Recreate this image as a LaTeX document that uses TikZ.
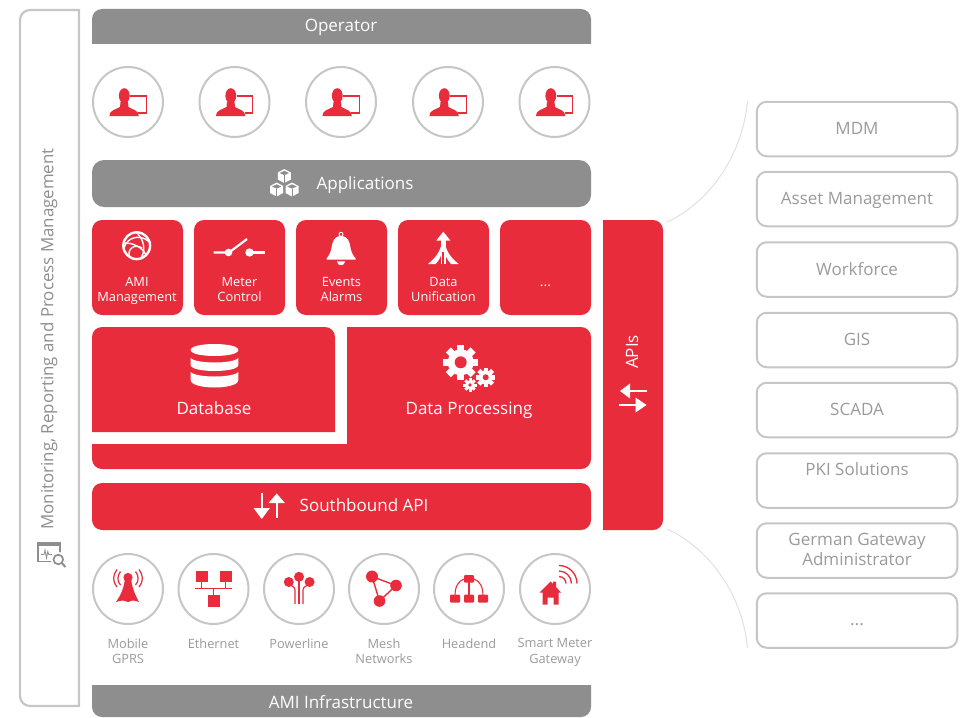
\documentclass[tikz,border=0pt]{standalone}
\usepackage{fontspec}
\setmainfont{Open Sans}
\definecolor{amired}{HTML}{E92C3C}
\definecolor{amigray}{HTML}{8E8E8E}
\definecolor{amiline}{HTML}{C6C6C6}
\definecolor{amitext}{HTML}{9A9A9A}
\newcommand{\fsize}[2]{\fontsize{#1}{#2}\selectfont}
\tikzset{
    bigtext/.style={text=white,font=\fsize{17}{20},inner sep=0,text height=12pt,text depth=3.5pt},
    cardtext/.style={text=white,font=\fsize{12.8}{15.5},align=center,anchor=north,inner sep=0},
    smalltext/.style={text=amitext,font=\fsize{12.8}{15.5},align=center,anchor=north,inner sep=0},
    card/.style={fill=amired,rounded corners=10pt,minimum width=91pt,minimum height=95pt,inner sep=0},
    ring/.style={circle,draw=amiline,line width=2pt,fill=white,minimum size=70pt,inner sep=0},
    sidebox/.style={draw=amiline,line width=2pt,rounded corners=10pt,minimum width=200.5pt,minimum height=54.5pt,inner sep=0},
    sidetext/.style={text=amitext,font=\fsize{17}{20.5},align=center,inner sep=0,text height=12pt,text depth=3.5pt},
    pics/usericon/.style={code={
        \fill[amired] (-3.7,-6.2) ellipse [x radius=5.4,y radius=7.6];
        \fill[amired] (-18.6,14) .. controls (-18.6,8) and (-12,7.5) .. (-8,5) -- (-7.5,0) -- (0,0) -- (0.5,5) .. controls (4,7.5) and (10.8,8) .. (10.8,14) -- cycle;
        \draw[amired,line width=1.1pt] (2,-6) -- (18.3,-6) -- (18.3,10.3) -- (11,10.3);
        \fill[amired] (10,9.6) rectangle (18.9,11.6);
    }},
    pics/cubeicon/.style={code={
        \fill[white] (0,-7) -- (6.5,-3.5) -- (6.5,3.5) -- (0,7) -- (-6.5,3.5) -- (-6.5,-3.5) -- cycle;
        \fill[amigray] (0,-5.2) -- (4.6,-3) -- (0,-0.8) -- (-4.6,-3) -- cycle;
        \draw[amigray,line width=0.6pt] (0,-0.8) -- (0,7);
    }},
    pics/geartool/.style n args={4}{code={
        \fill[white] (0,0) circle [radius=#2];
        \foreach \i in {1,...,8}
            \fill[white,rotate=\i*45] (-#4,-#1) rectangle (#4,0);
        \fill[amired] (0,0) circle [radius=#3];
    }},
}
\begin{document}
\begin{tikzpicture}[x=1pt,y=-1pt]
    \useasboundingbox (0,0) rectangle (963,717);

    % Frame on the left
    \draw[amiline,line width=2.2pt] (79,706) [rounded corners=10pt] -- (20,706) -- (20,10) [sharp corners] -- (79,10) -- cycle;
    \node[rotate=90,text=amigray,font=\fsize{16.9}{20},inner sep=0] (monitoring) at (49,339) {Monitoring, Reporting and Process Management};
    \draw[amigray,line width=1.3pt] (37.9,543) rectangle (60,561.5);
    \fill[amigray] (37.3,541.5) rectangle (60.6,546);
    \fill[white] (58.5,559.5) circle [radius=7.5];
    \draw[amigray,line width=1.7pt] (58.3,559.5) circle [radius=4.8];
    \draw[amigray,line width=2pt] (61.8,563) -- (65.5,567);
    \draw[amigray,line width=0.8pt] (41,554.5) -- (44,554.5) -- (45,550) -- (46.5,558) -- (47.8,551.5) -- (48.8,554.5) -- (52,554.5);

    % Operator
    \fill[amigray] (92,44) [rounded corners=10pt] -- (92,9) -- (591,9) [sharp corners] -- (591,44) -- cycle;
    \node[bigtext] (operator) at (341,27.5) {Operator};
    \foreach \x [count=\i] in {128,234.5,341,448,554.5} {
        \node[ring] (user\i) at (\x,102) {};
        \pic at (user\i) {usericon};
    }

    % Applications
    \node[fill=amigray,rounded corners=12pt,minimum width=499pt,minimum height=47pt,inner sep=0] (appbar) at (341.5,183.5) {};
    \node[bigtext] (applications) at (365,185) {Applications};
    \pic at (284.3,176) {cubeicon};
    \pic at (276.7,189.5) {cubeicon};
    \pic at (292,189.5) {cubeicon};

    % The five cards
    \node[card] (ami) at (137.5,267.5) {};
    \node[card] (meter) at (239.5,267.5) {};
    \node[card] (events) at (341.5,267.5) {};
    \node[card] (unify) at (443.5,267.5) {};
    \node[card] (more) at (545.5,267.5) {};
    \node[cardtext] (amilabel) at (137,276.8) {AMI\\Management};
    \node[cardtext] (meterlabel) at (239.5,276.8) {Meter\\Control};
    \node[cardtext] (eventslabel) at (341.5,276.8) {Events\\Alarms};
    \node[cardtext] (unifylabel) at (443.5,276.8) {Data\\Unification};
    \node[text=white,font=\fsize{14}{16},anchor=base,inner sep=0] (morelabel) at (545.5,286) {...};

    % Globe
    \draw[white,line width=2.4pt] (136.7,245.7) circle [radius=13.4];
    \draw[white,line width=1.4pt] (124,248) .. controls (127,237) and (140,234) .. (148,241);
    \draw[white,line width=1.4pt] (125,243) .. controls (136,243) and (145,250) .. (146,256);
    \draw[white,line width=1.4pt] (130,258) .. controls (126,250) and (134,243) .. (142,248);
    \draw[white,line width=1.4pt] (137,233) .. controls (144,240) and (146,250) .. (141,258);

    % Switch
    \draw[white,line width=2.2pt] (213.5,252.5) -- (229,252.5) -- (247,239);
    \draw[white,line width=2.2pt] (250,252.5) -- (265,252.5);
    \fill[white] (228.5,252.5) circle [radius=3.8];
    \fill[white] (249.5,252.5) circle [radius=4.2];

    % Bell
    \draw[white,line width=0.9pt] (341,234.3) circle [radius=2];
    \fill[white] (326.5,258.5) .. controls (332,252) and (331,248) .. (332.5,243) .. controls (334,237.5) and (338,236) .. (341,236) .. controls (344,236) and (348,237.5) .. (349.5,243) .. controls (351,248) and (350,252) .. (355.7,258.5) -- (355.7,259.6) -- (326.5,259.6) -- cycle;
    \fill[white] (336.8,261.4) .. controls (337.5,266.5) and (344.5,266.5) .. (345.2,261.4) -- cycle;

    % Arrow with merging legs
    \fill[white] (443.3,231.7) -- (450.3,240.5) -- (436.3,240.5) -- cycle;
    \fill[white] (440.6,240) rectangle (446,252);
    \fill[white] (440.6,250) -- (442.4,250) -- (442.4,264) -- (440.6,264) -- cycle;
    \fill[white] (444.2,250) -- (446,250) -- (446,264) -- (444.2,264) -- cycle;
    \fill[white] (441,246) .. controls (439,254) and (433,260) .. (428,264) -- (435.5,264) .. controls (438.5,261) and (441,257) .. (441.5,253) -- cycle;
    \fill[white] (445.6,246) .. controls (447.6,254) and (453.6,260) .. (458.6,264) -- (451.1,264) .. controls (448.1,261) and (445.6,257) .. (445.1,253) -- cycle;

    % Database and data processing
    \fill[amired] (92,432) [rounded corners=10pt] -- (92,327) -- (335,327) [sharp corners] -- (335,432) -- cycle;
    \fill[amired] (347,444) -- (347,327) [rounded corners=10pt] -- (591,327) -- (591,469) -- (92,469) [sharp corners] -- (92,444) -- cycle;
    \node[bigtext] (database) at (214,410) {Database};
    \node[bigtext] (processing) at (469,410) {Data Processing};
    \fill[white] (190.7,350) .. controls (190.7,342) and (238.3,342) .. (238.3,350) .. controls (238.3,358) and (190.7,358) .. (190.7,350) -- cycle;
    \fill[white] (190.7,358) .. controls (196,364) and (233,364) .. (238.3,358) -- (238.3,365) .. controls (238.3,373) and (190.7,373) .. (190.7,365) -- cycle;
    \fill[white] (190.7,372) .. controls (196,378) and (233,378) .. (238.3,372) -- (238.3,380) .. controls (238.3,390) and (190.7,390) .. (190.7,380) -- cycle;
    \pic at (460.7,362.3) {geartool={17.5}{13}{6}{3.6}};
    \pic at (485.7,377.3) {geartool={9.7}{7}{3}{2.2}};
    \pic at (470,385) {geartool={6.6}{4.8}{1.9}{1.5}};

    % Southbound API
    \node[fill=amired,rounded corners=10pt,minimum width=499pt,minimum height=47pt,inner sep=0] (southbound) at (341.5,506.5) {};
    \node[bigtext] (southlabel) at (364,507.5) {Southbound API};
    \draw[white,line width=1.7pt] (261.7,493) -- (261.7,509);
    \fill[white] (253.5,508) -- (269.9,508) -- (261.7,519) -- cycle;
    \draw[white,line width=1.7pt] (276.7,502) -- (276.7,518);
    \fill[white] (268.5,503) -- (284.9,503) -- (276.7,493.5) -- cycle;

    % APIs
    \fill[amired] (603,530) -- (603,220) [rounded corners=10pt] -- (663,220) -- (663,530) [sharp corners] -- (603,530) -- cycle;
    \node[rotate=90,text=white,font=\fsize{17}{20},inner sep=0] (apis) at (632,352) {APIs};
    \draw[white,line width=1.7pt] (629,391) -- (647,391);
    \fill[white] (630,383.5) -- (630,398.5) -- (620,391) -- cycle;
    \draw[white,line width=1.7pt] (619,405) -- (636,405);
    \fill[white] (635.5,397.5) -- (635.5,412.5) -- (646.5,405) -- cycle;

    % Curves to the systems on the right
    \coordinate (apitop) at (667,222);
    \coordinate (apibot) at (667,529);
    \coordinate (boxtop) at (747.5,101);
    \coordinate (boxbot) at (747.5,648);
    \draw[black!12,line width=1pt] (apitop) .. controls (705,205) and (742,160) .. (boxtop);
    \draw[black!12,line width=1pt] (apibot) .. controls (705,546) and (742,590) .. (boxbot);

    % Systems on the right
    \foreach \y/\nm in {129/mdm,199/asset,269.5/workforce,340/gis,410/scada,480.5/pki,550.5/gateway,620.5/others}
        \node[sidebox] (\nm) at (857,\y) {};
    \node[sidetext] (mdmlabel) at (857,130) {MDM};
    \node[sidetext] (assetlabel) at (857,200.5) {Asset Management};
    \node[sidetext] (workforcelabel) at (857,271) {Workforce};
    \node[sidetext] (gislabel) at (857,341) {GIS};
    \node[sidetext] (scadalabel) at (857,411) {SCADA};
    \node[sidetext] (pkilabel) at (857,471) {PKI Solutions};
    \node[sidetext] (gatewaylabel) at (857,561.5) {German Gateway\\Administrator};
    \node[text=amitext,font=\fsize{17}{20},anchor=base,inner sep=0] (otherslabel) at (857,625.5) {...};

    % Infrastructure row
    \foreach \x/\nm/\lab in {128/gprs/{Mobile\\GPRS},213.5/ethernet/Ethernet,299/powerline/Powerline,384/mesh/{Mesh\\Networks},469/headend/Headend,555/smart/{Smart Meter\\Gateway}} {
        \node[ring] (\nm) at (\x,589) {};
        \node[smalltext] (\nm label) at (\x,638.3) {\lab};
    }

    % Mobile tower
    \fill[amired] (128,577.5) circle [radius=4.6];
    \fill[amired] (125,579) -- (131,579) .. controls (132.5,590) and (136,596) .. (139,602) .. controls (134,600) and (131,600) .. (128,602) .. controls (125,600) and (122,600) .. (116,602) .. controls (120,596) and (123.5,590) .. (125,579) -- cycle;
    \draw[amired,line width=1.2pt] (120.5,571.5) .. controls (117,576) and (117,581) .. (120.5,585);
    \draw[amired,line width=1.2pt] (135.5,571.5) .. controls (139,576) and (139,581) .. (135.5,585);
    \draw[amired,line width=1.2pt] (117,569.5) .. controls (112.5,575) and (112.5,582) .. (117,587);
    \draw[amired,line width=1.2pt] (139,569.5) .. controls (143.5,575) and (143.5,582) .. (139,587);

    % Ethernet network
    \fill[amired] (195.5,570.5) rectangle (207.5,582);
    \fill[amired] (219.5,570.5) rectangle (231.5,582);
    \fill[amired] (207.5,594.5) rectangle (219.5,606.5);
    \draw[amired,line width=1.1pt] (195,588.5) -- (232,588.5);
    \draw[amired,line width=1.1pt] (201.5,582) -- (201.5,588.5);
    \draw[amired,line width=1.1pt] (225.5,582) -- (225.5,588.5);
    \draw[amired,line width=1.1pt] (213.5,588.5) -- (213.5,595);

    % Powerline
    \fill[amired] (288.8,582) circle [radius=5];
    \fill[amired] (299,576.8) circle [radius=5];
    \fill[amired] (309.6,582) circle [radius=5];
    \draw[amired,line width=1.1pt] (299,578) -- (299,604);
    \draw[amired,line width=1.1pt] (295,604) -- (295,590) .. controls (295,586) and (291,587) .. (289,583);
    \draw[amired,line width=1.1pt] (303,604) -- (303,590) .. controls (303,586) and (307,587) .. (309,583);

    % Mesh
    \draw[amired,line width=1.4pt] (372,576.5) -- (396,585.5) -- (379.5,601) -- cycle;
    \fill[amired] (372,576.5) circle [radius=6];
    \fill[amired] (396,585.5) circle [radius=5.8];
    \fill[amired] (379.5,601) circle [radius=5.8];

    % Headend tree
    \draw[amired,line width=1.1pt] (469,582) -- (469,596);
    \draw[amired,line width=1.1pt] (464,579) .. controls (458,581) and (455,587) .. (455,596);
    \draw[amired,line width=1.1pt] (474,579) .. controls (480,581) and (483,587) .. (483,596);
    \fill[amired,rounded corners=1pt] (464,575) rectangle (474,582.5);
    \fill[amired,rounded corners=1pt] (450,594.5) rectangle (460,602.5);
    \fill[amired,rounded corners=1pt] (464,594.5) rectangle (474,602.5);
    \fill[amired,rounded corners=1pt] (478,594.5) rectangle (488,602.5);

    % House with radio waves
    \fill[amired] (550.5,581.5) -- (553,584) -- (553,581.5) -- (556,581.5) -- (556,587) -- (561,592.5) -- (558.5,592.5) -- (558.5,604.5) -- (553.5,604.5) -- (553.5,597.5) -- (547.5,597.5) -- (547.5,604.5) -- (542.5,604.5) -- (542.5,592.5) -- (539.5,592.5) -- cycle;
    \foreach \r in {7,12.5,18}
        \draw[amired,line width=1.3pt] (559,{583.5-\r}) .. controls ({559+.55*\r},{583.5-\r}) and ({559+\r},{583.5-.55*\r}) .. ({559+\r},583.5);

    % AMI infrastructure
    \fill[amigray] (92,685) [rounded corners=10pt] -- (92,717) -- (591,717) [sharp corners] -- (591,685) -- cycle;
    \node[bigtext] (infrastructure) at (341,704) {AMI Infrastructure};
\end{tikzpicture}
\end{document}
